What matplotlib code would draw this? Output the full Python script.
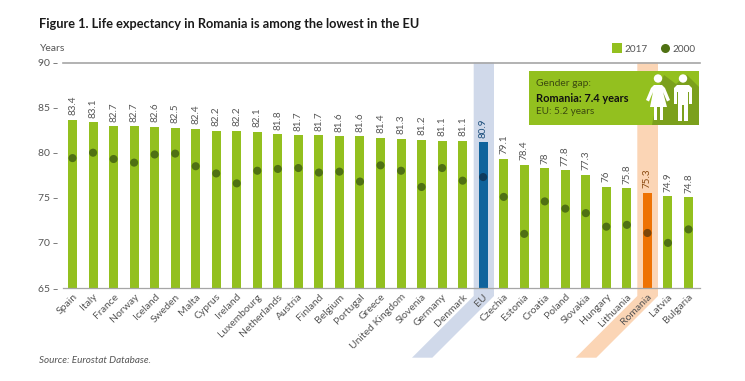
import matplotlib
matplotlib.use("Agg")
import matplotlib.pyplot as plt
from matplotlib.lines import Line2D
from matplotlib.patches import Circle, Polygon, Rectangle
from matplotlib.transforms import Affine2D

countries = ["Spain", "Italy", "France", "Norway", "Iceland", "Sweden", "Malta", "Cyprus",
             "Ireland", "Luxembourg", "Netherlands", "Austria", "Finland", "Belgium",
             "Portugal", "Greece", "United Kingdom", "Slovenia", "Germany", "Denmark", "EU",
             "Czechia", "Estonia", "Croatia", "Poland", "Slovakia", "Hungary", "Lithuania",
             "Romania", "Latvia", "Bulgaria"]
values_2017 = [83.4, 83.1, 82.7, 82.7, 82.6, 82.5, 82.4, 82.2, 82.2, 82.1, 81.8, 81.7, 81.7,
               81.6, 81.6, 81.4, 81.3, 81.2, 81.1, 81.1, 80.9, 79.1, 78.4, 78, 77.8, 77.3,
               76, 75.8, 75.3, 74.9, 74.8]
values_2000 = [79.4, 80.0, 79.3, 78.9, 79.8, 79.9, 78.5, 77.7, 76.6, 78.0, 78.2, 78.3, 77.8,
               77.9, 76.8, 78.6, 78.0, 76.2, 78.3, 76.9, 77.3, 75.1, 71.0, 74.6, 73.8, 73.3,
               71.8, 72.0, 71.1, 70.0, 71.5]
y_ticks = [65, 70, 75, 80, 85, 90]

GREEN = "#93c01f"
DOT = "#4f7113"
GREY = "#555555"
FONT = ["Lato", "DejaVu Sans"]
# bars in the reference stand a little above their printed value
BAR_NUDGE = 0.25

W, H = 745, 381
plt.rcParams["font.family"] = FONT

fig = plt.figure(figsize=(W / 100, H / 100), dpi=100)
# reference is laid out in pixels, so place the axes that way
ax = fig.add_axes([63 / W, 1 - 288 / H, (700 - 63) / W, (288 - 62.5) / H])
ax.set_facecolor("none")
px = Affine2D().scale(1 / W, -1 / H).translate(0, 1) + fig.transFigure


def band(x0, x1, color):
    # highlight column with the slanted tail under the axis
    pts = [(x0, 62.5), (x1, 62.5), (x1, 296), (x1 - 61.7, 357.7), (x0 - 61.7, 357.7), (x0, 296)]
    fig.add_artist(Polygon(pts, closed=True, fc=color, ec="none", transform=px, zorder=-1))


band(473.7, 494, "#d0d9ea")
band(637.3, 658, "#fbd5b5")

x = list(range(len(countries)))
bar_colors = [GREEN] * len(x)
dot_colors = [DOT] * len(x)
bar_colors[countries.index("EU")] = "#0f639c"
dot_colors[countries.index("EU")] = "#0e3b5e"
bar_colors[countries.index("Romania")] = "#ee7203"
dot_colors[countries.index("Romania")] = "#7d4508"

ax.bar(x, [v + BAR_NUDGE for v in values_2017], width=0.44, color=bar_colors, zorder=2)
ax.scatter(x, values_2000, s=34, color=dot_colors, linewidths=0, zorder=3)

for i, v in enumerate(values_2017):
    c = "#555555"
    if countries[i] == "EU":
        c = "#1d4f7c"
    if countries[i] == "Romania":
        c = "#8a4a10"
    ax.text(i, v + BAR_NUDGE + 0.5, f"{v:g}", rotation=90, ha="center", va="bottom", fontsize=7.1, color=c)

ax.set_xlim(-0.463, 30.56)
ax.set_ylim(65, 90)
ax.set_yticks(y_ticks)
ax.set_yticklabels([f"{t} \u2013" for t in y_ticks], fontsize=7.5, color=GREY)
ax.set_xticks(x)
ax.set_xticklabels(countries, rotation=45, ha="right", va="top", rotation_mode="anchor",
                   fontsize=7.5, color=GREY)
ax.tick_params(axis="both", length=0)
ax.tick_params(axis="y", pad=3)
ax.tick_params(axis="x", pad=3)
for s in ["left", "right"]:
    ax.spines[s].set_visible(False)
ax.spines["top"].set_color("#a6a6a6")
ax.spines["top"].set_linewidth(1.2)
ax.spines["bottom"].set_color("#a6a6a6")
ax.spines["bottom"].set_linewidth(0.9)

handles = [Line2D([], [], marker="s", ls="none", color=GREEN, ms=6.5, mew=0, label="2017"),
           Line2D([], [], marker="o", ls="none", color=DOT, ms=6.5, mew=0, label="2000")]
ax.legend(handles=handles, ncol=2, frameon=False, fontsize=7.2, labelcolor=GREY,
          loc="lower right", bbox_to_anchor=(1.0, 1.02), borderaxespad=0.2, borderpad=0.2,
          handletextpad=0.1, columnspacing=1.0, handlelength=1.4)

fig.text(39 / W, 1 - 24 / H, "Figure 1. Life expectancy in Romania is among the lowest in the EU",
         fontsize=9.2, fontweight="bold", color="#1a1a1a", va="center")
fig.text(40 / W, 1 - 48.5 / H, "Years", fontsize=7.5, color=GREY, va="center")
fig.text(39 / W, 1 - 360.5 / H, "Source: Eurostat Database.", fontsize=7.15, style="italic",
         color=GREY, va="center")

# gender gap box
fig.add_artist(Rectangle((529, 71), 170, 54, fc=GREEN, ec="none", transform=px, zorder=2))
fig.add_artist(Polygon([(652, 125), (699, 125), (699, 87), (687, 75), (676, 84), (664, 75), (660, 84)],
                       closed=True, fc="#7ba01c", ec="none", transform=px, zorder=2.1))
fig.text(536 / W, 1 - 83.5 / H, "Gender gap:", fontsize=7.4, color="#3c4a10", va="center", zorder=3)
fig.text(536 / W, 1 - 99 / H, "Romania: 7.4 years", fontsize=7.9, fontweight="bold", color="#111111",
         va="center", zorder=3)
fig.text(536 / W, 1 - 111 / H, "EU: 5.2 years", fontsize=7.2, color="#3c4a10", va="center", zorder=3)

# woman and man pictograms
woman = [(654, 85), (662, 85), (665, 88), (670, 100), (667, 101.5), (663, 92), (667, 107), (663, 107),
         (663, 120), (660, 120), (660, 107), (657, 107), (657, 120), (654, 120), (654, 107), (650, 107),
         (653, 92), (649, 101.5), (646, 100), (651, 88)]
man = [(677, 85), (689, 85), (692, 88), (692, 104), (689, 104), (689, 92), (688, 92), (688, 121),
       (684, 121), (684, 105), (682, 105), (682, 121), (678, 121), (678, 92), (677, 92), (677, 104),
       (674, 104), (674, 88)]
for shape in (woman, man):
    fig.add_artist(Polygon(shape, closed=True, fc="white", ec="none", transform=px, zorder=3))
for cx in (658, 683):
    fig.add_artist(Circle((cx, 78.5), 4.2, fc="white", ec="none", transform=px, zorder=3))

fig.savefig("out.png", dpi=100)
